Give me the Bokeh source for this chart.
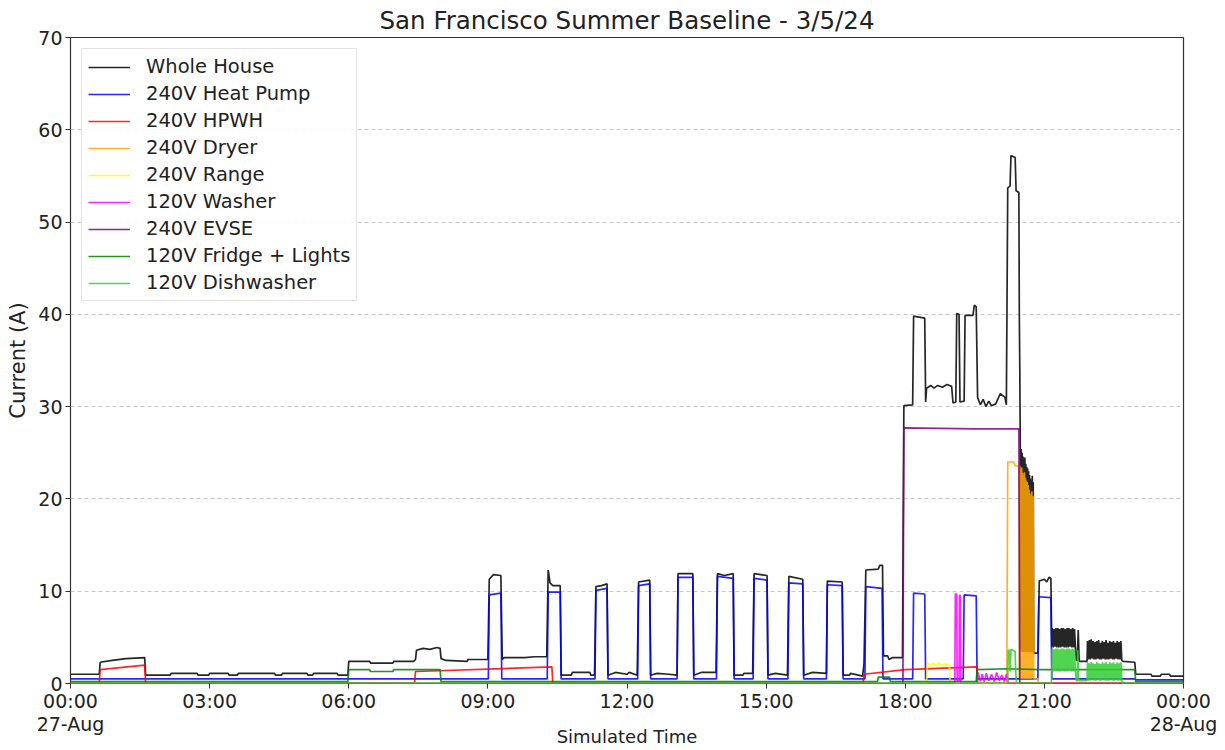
from bokeh.plotting import figure
from bokeh.models import FixedTicker, Range1d
from bokeh.embed import file_html
from bokeh.resources import INLINE

TITLE = "San Francisco Summer Baseline - 3/5/24"
X_LABEL = "Simulated Time"
Y_LABEL = "Current (A)"
X_TICKS = [0, 3, 6, 9, 12, 15, 18, 21, 24]
X_TICK_LABELS = ["00:00\n27-Aug", "03:00", "06:00", "09:00", "12:00",
                 "15:00", "18:00", "21:00", "00:00\n28-Aug"]
Y_TICKS = [0, 10, 20, 30, 40, 50, 60, 70]

# (hour of day, amps) breakpoints
whole_house = [
    (0.00, 1.0), (0.62, 1.0), (0.64, 2.3), (0.90, 2.5), (1.20, 2.7), (1.60, 2.8), (1.62, 0.9),
    (2.15, 0.9), (2.17, 1.1), (2.73, 1.1), (2.75, 0.9), (2.98, 0.9), (3.00, 1.1), (3.40, 1.1),
    (3.42, 0.9), (3.60, 0.9), (3.62, 1.1), (4.40, 1.1), (4.42, 0.9), (4.55, 0.9), (4.57, 1.1),
    (5.10, 1.1), (5.12, 0.9), (5.22, 0.9), (5.24, 1.1), (5.75, 1.1), (5.77, 0.9), (5.98, 0.9),
    (6.00, 2.4), (6.45, 2.4), (6.47, 2.2), (6.95, 2.2), (6.97, 2.4), (7.40, 2.4), (7.44, 2.6),
    (7.46, 3.6), (7.60, 3.8), (7.75, 3.7), (7.90, 3.9), (7.97, 3.8), (7.99, 2.7), (8.10, 2.5),
    (8.55, 2.4), (8.57, 2.6), (9.00, 2.6),
    (9.03, 11.3), (9.12, 11.8), (9.28, 11.7), (9.31, 2.6), (9.35, 2.8), (9.80, 2.8), (10.00, 2.9),
    (10.27, 2.9), (10.30, 12.3), (10.34, 10.9), (10.40, 10.6), (10.56, 10.6), (10.58, 0.9),
    (10.80, 0.9), (10.82, 1.2), (11.20, 1.2), (11.22, 0.9), (11.30, 0.9),
    (11.33, 10.5), (11.45, 10.6), (11.57, 10.8), (11.59, 0.9), (11.75, 1.2), (12.00, 1.0),
    (12.05, 1.2), (12.22, 0.9), (12.25, 11.0), (12.49, 11.2), (12.51, 0.9), (12.65, 1.1),
    (12.90, 1.0), (13.08, 0.9), (13.10, 11.9), (13.42, 11.9), (13.44, 0.9), (13.60, 1.2),
    (13.92, 1.2), (13.95, 11.9), (14.10, 11.7), (14.29, 11.9), (14.31, 0.9), (14.50, 0.9),
    (14.52, 1.1), (14.71, 1.1), (14.74, 11.9), (15.02, 11.7), (15.04, 0.9), (15.20, 1.1),
    (15.46, 0.9), (15.49, 11.6), (15.79, 11.3), (15.81, 0.9), (16.00, 1.2), (16.30, 1.1),
    (16.32, 11.1), (16.64, 11.0), (16.66, 0.9), (16.80, 0.9), (16.82, 1.1), (17.08, 0.8),
    (17.11, 2.1), (17.15, 12.3), (17.42, 12.4), (17.45, 12.8), (17.51, 12.8), (17.53, 3.0),
    (17.62, 3.0), (17.65, 2.6), (17.72, 2.8), (17.94, 2.8),
    (17.97, 30.1), (18.16, 30.2), (18.18, 39.8), (18.42, 39.6), (18.44, 30.5), (18.46, 32.0),
    (18.55, 32.3), (18.62, 32.0), (18.70, 32.3), (18.80, 32.1), (18.90, 32.4), (19.00, 32.2),
    (19.03, 30.4), (19.09, 30.5), (19.11, 40.1), (19.16, 40.0), (19.18, 30.5), (19.27, 30.6),
    (19.29, 39.9), (19.46, 39.9), (19.49, 41.0), (19.53, 40.8), (19.56, 31.0), (19.62, 30.2),
    (19.68, 30.8), (19.74, 30.0), (19.80, 30.6), (19.86, 30.1), (19.95, 30.3), (20.05, 31.4),
    (20.15, 31.0), (20.18, 30.2), (20.21, 53.7), (20.26, 53.9), (20.28, 57.2), (20.37, 57.0),
    (20.39, 53.4), (20.45, 53.2), (20.46, 39.7), (20.47, 34.2),
    (20.48, 26.0), (20.49, 3.5), (20.50, 25.4), (20.51, 3.5), (20.52, 25.0), (20.53, 3.4),
    (20.54, 24.6), (20.55, 3.5), (20.56, 24.3), (20.57, 3.4), (20.58, 24.5), (20.59, 3.5),
    (20.60, 23.8), (20.61, 3.4), (20.62, 23.5), (20.63, 3.5), (20.64, 23.3), (20.65, 3.4),
    (20.66, 23.0), (20.67, 3.5), (20.68, 22.6), (20.69, 3.4), (20.70, 22.2), (20.71, 3.5),
    (20.72, 22.0), (20.73, 3.4), (20.74, 22.5), (20.75, 3.5), (20.76, 21.8), (20.77, 3.3),
    (20.86, 3.3), (20.89, 11.1), (21.00, 11.3), (21.05, 11.0), (21.10, 11.5), (21.14, 11.4),
    (21.16, 4.0),
    (21.17, 6.0), (21.19, 3.9), (21.21, 5.9), (21.23, 4.0), (21.25, 6.0), (21.27, 3.9),
    (21.29, 6.0), (21.31, 3.9), (21.33, 5.9), (21.35, 3.9), (21.37, 6.0), (21.39, 4.0),
    (21.41, 6.0), (21.43, 3.9), (21.45, 5.9), (21.47, 3.9), (21.49, 6.0), (21.51, 3.9),
    (21.53, 6.0), (21.55, 4.0), (21.57, 5.9), (21.59, 3.9), (21.61, 6.0), (21.63, 3.9),
    (21.65, 5.9), (21.67, 3.8), (21.69, 2.5), (21.71, 2.5), (21.73, 5.8), (21.75, 2.4),
    (21.92, 2.4),
    (21.93, 4.6), (21.95, 2.6), (21.97, 4.7), (21.99, 2.6), (22.01, 4.8), (22.03, 2.7),
    (22.05, 4.6), (22.07, 2.6), (22.09, 4.5), (22.11, 2.6), (22.13, 4.6), (22.15, 2.7),
    (22.17, 4.7), (22.19, 2.6), (22.21, 4.4), (22.23, 2.6), (22.25, 4.6), (22.27, 2.7),
    (22.29, 4.5), (22.31, 2.6), (22.33, 4.7), (22.35, 2.6), (22.37, 4.4), (22.39, 2.6),
    (22.41, 4.6), (22.43, 2.7), (22.45, 4.5), (22.47, 2.6), (22.49, 4.6), (22.51, 2.6),
    (22.53, 4.4), (22.55, 2.7), (22.57, 4.6), (22.59, 2.6), (22.61, 4.5), (22.63, 2.6),
    (22.65, 4.6), (22.67, 2.5),
    (22.70, 2.4), (22.95, 2.3), (22.97, 1.0), (23.30, 1.0), (23.32, 0.8), (23.50, 0.8),
    (23.52, 1.0), (23.70, 1.0), (23.72, 0.8), (24.00, 0.8),
]

heat_pump = [
    (0.00, 0.5), (9.01, 0.5), (9.03, 9.6), (9.28, 9.8), (9.30, 0.5), (10.28, 0.5), (10.30, 9.9),
    (10.56, 9.9), (10.58, 0.5), (11.31, 0.5), (11.33, 10.1), (11.57, 10.3), (11.59, 0.5),
    (12.23, 0.5), (12.25, 10.6), (12.49, 10.8), (12.51, 0.5), (13.08, 0.5), (13.10, 11.5),
    (13.42, 11.5), (13.44, 0.5), (13.93, 0.5), (13.95, 11.6), (14.29, 11.4), (14.31, 0.5),
    (14.72, 0.5), (14.74, 11.4), (15.02, 11.2), (15.04, 0.5), (15.47, 0.5), (15.49, 10.9),
    (15.79, 10.8), (15.81, 0.5), (16.30, 0.5), (16.32, 10.7), (16.64, 10.6), (16.66, 0.5),
    (17.13, 0.5), (17.15, 10.5), (17.50, 10.3), (17.52, 0.5), (18.16, 0.5), (18.18, 9.8),
    (18.42, 9.7), (18.44, 0.5), (19.25, 0.5), (19.27, 9.6), (19.53, 9.5), (19.55, 0.5),
    (20.86, 0.5), (20.88, 9.4), (21.14, 9.3), (21.16, 0.5), (22.95, 0.5), (22.97, 0.4),
    (24.00, 0.4),
]

hpwh = [
    (0.00, 0.05), (0.62, 0.05), (0.64, 1.5), (1.60, 2.0), (1.62, 0.05), (7.42, 0.05),
    (7.44, 1.3), (10.38, 1.8), (10.40, 0.05), (17.09, 0.05), (17.11, 1.0), (18.00, 1.5),
    (19.54, 1.8), (19.56, 0.05), (24.00, 0.05),
]

dryer = [
    (0.00, 0.0), (20.19, 0.0), (20.21, 24.0), (20.34, 24.0), (20.37, 23.6), (20.45, 23.5),
    (20.46, 0.6), (20.47, 23.6), (20.48, 0.5), (20.49, 23.2), (20.50, 0.6), (20.51, 23.4),
    (20.52, 0.5), (20.53, 22.8), (20.54, 0.6), (20.55, 22.6), (20.56, 0.5), (20.57, 22.9),
    (20.58, 0.6), (20.59, 22.3), (20.60, 0.5), (20.61, 22.0), (20.62, 0.6), (20.63, 21.8),
    (20.64, 0.5), (20.65, 21.5), (20.66, 0.6), (20.67, 21.0), (20.68, 0.5), (20.69, 20.6),
    (20.70, 0.6), (20.71, 20.4), (20.72, 0.5), (20.73, 20.8), (20.74, 0.6), (20.75, 20.3),
    (20.76, 20.1), (20.77, 0.5), (20.86, 0.5), (20.87, 0.0), (24.00, 0.0),
]

cooking_range = [
    (0.00, 0.0), (18.46, 0.0), (18.48, 2.2), (18.55, 1.9), (18.60, 2.2), (18.67, 1.9),
    (18.72, 2.2), (18.80, 1.9), (18.85, 2.1), (18.95, 2.0), (18.97, 0.0), (24.00, 0.0),
]

washer = [
    (0.00, 0.0), (19.07, 0.0), (19.08, 9.7), (19.11, 9.7), (19.12, 0.3), (19.16, 0.3),
    (19.17, 9.6), (19.19, 9.5), (19.20, 0.0), (19.55, 0.0), (19.57, 1.2), (19.62, 0.2),
    (19.66, 1.0), (19.70, 0.2), (19.75, 1.1), (19.80, 0.3), (19.86, 1.0), (19.92, 0.2),
    (19.97, 1.2), (20.03, 0.3), (20.08, 0.9), (20.14, 0.2), (20.18, 1.0), (20.22, 0.0),
    (24.00, 0.0),
]

evse = [
    (0.00, 0.0), (17.95, 0.0), (17.97, 27.7), (19.50, 27.6), (20.45, 27.6), (20.47, 0.0),
    (24.00, 0.0),
]

fridge_lights = [
    (0.00, 0.2), (5.98, 0.2), (6.00, 1.5), (6.45, 1.5), (6.47, 1.3), (6.95, 1.3), (6.97, 1.5),
    (7.97, 1.5), (7.99, 0.2), (17.40, 0.2), (17.42, 0.7), (17.66, 0.7), (17.68, 0.2),
    (19.53, 0.2), (19.55, 1.5), (20.20, 1.6), (20.90, 1.5), (22.95, 1.5), (22.97, 0.2),
    (24.00, 0.2),
]

dishwasher = [
    (0.00, 0.05), (20.21, 0.05), (20.22, 3.6), (20.25, 3.6), (20.26, 1.3), (20.28, 3.7),
    (20.37, 3.5), (20.38, 1.4), (20.40, 0.05), (21.15, 0.05), (21.16, 1.4),
    (21.17, 3.8), (21.19, 1.3), (21.21, 3.7), (21.23, 1.4), (21.25, 3.8), (21.27, 1.3),
    (21.29, 3.8), (21.31, 1.3), (21.33, 3.7), (21.35, 1.3), (21.37, 3.8), (21.39, 1.4),
    (21.41, 3.8), (21.43, 1.3), (21.45, 3.7), (21.47, 1.3), (21.49, 3.8), (21.51, 1.3),
    (21.53, 3.8), (21.55, 1.4), (21.57, 3.7), (21.59, 1.3), (21.61, 3.8), (21.63, 1.3),
    (21.65, 3.7), (21.67, 1.3), (21.69, 0.3), (21.71, 0.3), (21.72, 3.6), (21.74, 0.3),
    (21.92, 0.3),
    (21.93, 2.3), (21.95, 0.3), (21.97, 2.2), (21.99, 0.3), (22.01, 2.3), (22.03, 0.4),
    (22.05, 2.2), (22.07, 0.3), (22.09, 2.1), (22.11, 0.3), (22.13, 2.3), (22.15, 0.4),
    (22.17, 2.2), (22.19, 0.3), (22.21, 2.1), (22.23, 0.3), (22.25, 2.3), (22.27, 0.4),
    (22.29, 2.2), (22.31, 0.3), (22.33, 2.3), (22.35, 0.3), (22.37, 2.1), (22.39, 0.3),
    (22.41, 2.3), (22.43, 0.4), (22.45, 2.2), (22.47, 0.3), (22.49, 2.3), (22.51, 0.3),
    (22.53, 2.1), (22.55, 0.4), (22.57, 2.3), (22.59, 0.3), (22.61, 2.2), (22.63, 0.3),
    (22.65, 2.3), (22.67, 0.3), (22.69, 0.05), (24.00, 0.05),
]

SERIES = [
    ("Whole House", whole_house, "black"),
    ("240V Heat Pump", heat_pump, "blue"),
    ("240V HPWH", hpwh, "red"),
    ("240V Dryer", dryer, "orange"),
    ("240V Range", cooking_range, "yellow"),
    ("120V Washer", washer, "magenta"),
    ("240V EVSE", evse, "purple"),
    ("120V Fridge + Lights", fridge_lights, "green"),
    ("120V Dishwasher", dishwasher, "limegreen"),
]

FONT = "DejaVu Sans"
TEXT_COLOR = "#222222"

p = figure(width=1225, height=750, output_backend="svg", toolbar_location=None,
           x_range=Range1d(0, 24), y_range=Range1d(0, 70),
           min_border_left=70, min_border_right=42, min_border_top=37, min_border_bottom=67)

for name, pts, color in SERIES:
    xs = [t for t, _ in pts]
    ys = [a for _, a in pts]
    p.line(xs, ys, color=color, line_width=1.7, line_alpha=0.85, legend_label=name)

p.title.text = TITLE
p.title.align = "center"
p.title.text_font = FONT
p.title.text_font_size = "24.5px"
p.title.text_font_style = "normal"
p.title.text_color = TEXT_COLOR
p.title.standoff = 5
p.title.offset = 0

p.xaxis.ticker = FixedTicker(ticks=X_TICKS)
p.xaxis.major_label_overrides = {t: lab for t, lab in zip(X_TICKS, X_TICK_LABELS)}
p.yaxis.ticker = FixedTicker(ticks=Y_TICKS)
p.xaxis.axis_label = X_LABEL
p.yaxis.axis_label = Y_LABEL
for ax in (p.xaxis[0], p.yaxis[0]):
    ax.major_label_text_font = FONT
    ax.major_label_text_font_size = "19px"
    ax.major_label_text_color = TEXT_COLOR
    ax.axis_label_text_font = FONT
    ax.axis_label_text_font_style = "normal"
    ax.axis_label_text_color = TEXT_COLOR
    ax.minor_tick_line_color = None
    ax.major_tick_out = 5
    ax.major_tick_in = 0
    ax.axis_line_color = None
    ax.major_tick_line_color = "#333333"
p.xaxis.major_label_standoff = 1
p.xaxis.major_label_text_line_height = 1.05
p.xaxis.axis_label_text_font_size = "18px"
p.xaxis.axis_label_text_line_height = 1.0
p.xaxis.axis_label_standoff = -12
p.yaxis.major_label_standoff = 3
p.yaxis.axis_label_text_font_size = "21px"
p.yaxis.axis_label_standoff = 5

p.xgrid.grid_line_color = None
p.ygrid.grid_line_color = "#bbbbbb"
p.ygrid.grid_line_dash = "4 3"
p.ygrid.grid_line_width = 0.8

p.outline_line_color = "#333333"
p.outline_line_width = 1.2
p.outline_line_alpha = 1

leg = p.legend[0]
leg.location = "top_left"
leg.margin = 11
leg.padding = 6
leg.spacing = 4
leg.label_text_font = FONT
leg.label_text_font_size = "19.5px"
leg.label_text_color = TEXT_COLOR
leg.glyph_width = 42
leg.glyph_height = 20
leg.label_height = 20
leg.label_standoff = 16
leg.border_line_color = "#cccccc"
leg.background_fill_alpha = 0.85

open("out.html", "w").write(file_html(p, INLINE))
